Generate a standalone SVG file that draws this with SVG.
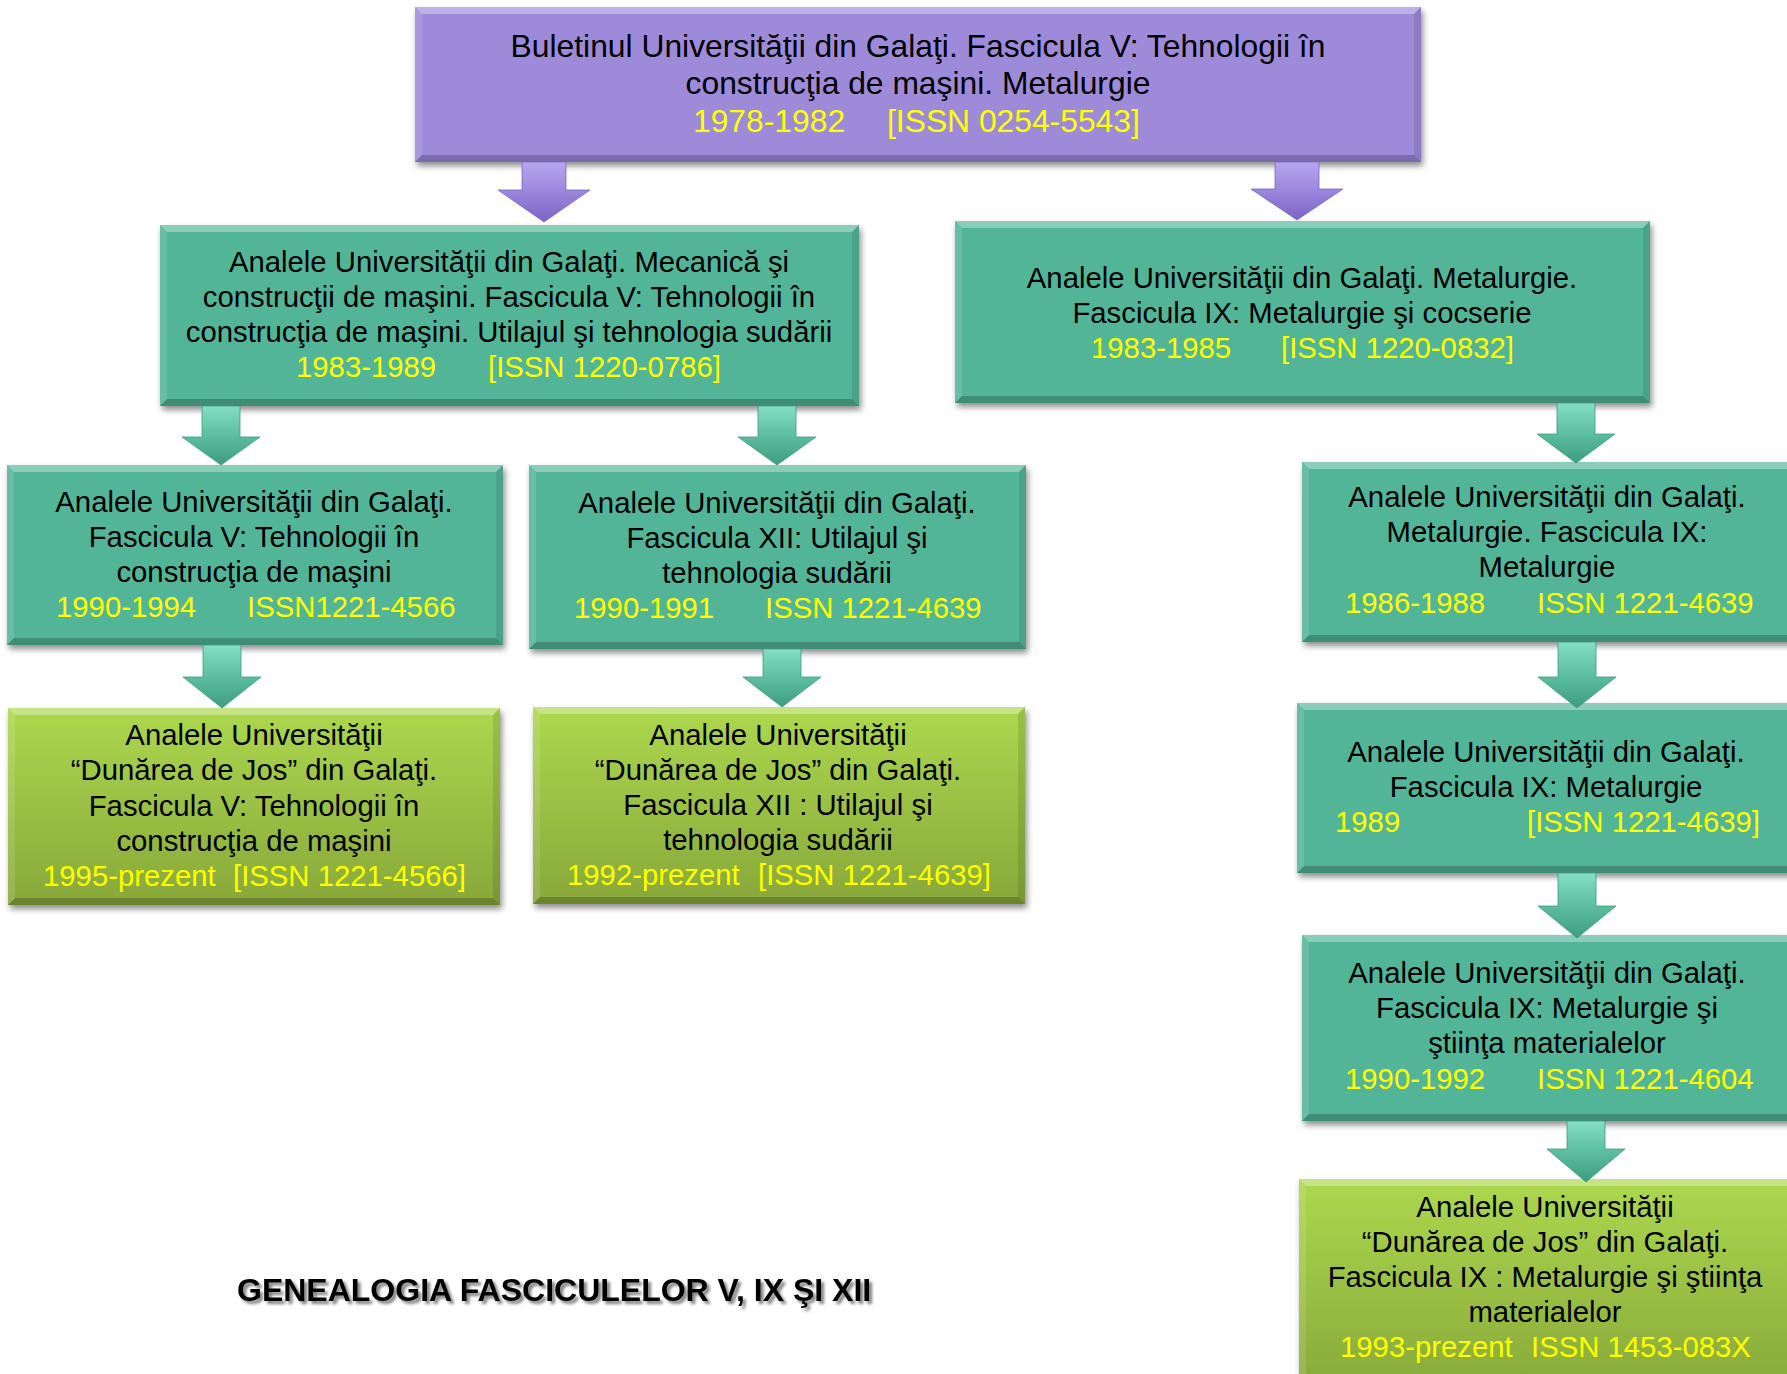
<svg xmlns="http://www.w3.org/2000/svg" width="1787" height="1374" viewBox="0 0 1787 1374">
<style>
.t{font-family:"Liberation Sans",Arial,sans-serif;font-size:29.3px;fill:#000;text-anchor:middle}
.big{font-size:31.8px}
.y{fill:#ffff00;text-anchor:start}
.teal{fill:#52b598}
.purple{fill:#9d8bda}
.lime{fill:url(#gLime)}
.bt{fill:#fff;fill-opacity:0.32}
.bl{fill:#fff;fill-opacity:0.12}
.br{fill:#000;fill-opacity:0.10}
.bb{fill:#000;fill-opacity:0.22}
.ga{fill:url(#gTealArrow);stroke:#3e9a7e;stroke-width:0.8}
.pa{fill:url(#gPurpArrow);stroke:#7a66c4;stroke-width:0.8}
.title{font-family:"Liberation Sans",Arial,sans-serif;font-size:32px;font-weight:bold;fill:#000}
</style>
<defs>
<linearGradient id="gLime" x1="0" y1="0" x2="0" y2="1">
<stop offset="0" stop-color="#acd84e"/>
<stop offset="1" stop-color="#88a83a"/>
</linearGradient>
<linearGradient id="gTealArrow" x1="0" y1="0" x2="0" y2="1">
<stop offset="0" stop-color="#84dfc3"/>
<stop offset="0.5" stop-color="#5cbf9f"/>
<stop offset="1" stop-color="#3e9c80"/>
</linearGradient>
<linearGradient id="gPurpArrow" x1="0" y1="0" x2="0" y2="1">
<stop offset="0" stop-color="#b6a6f0"/>
<stop offset="0.5" stop-color="#9a86dc"/>
<stop offset="1" stop-color="#7a64c6"/>
</linearGradient>
<filter id="sh" x="-5%" y="-10%" width="115%" height="130%">
<feGaussianBlur in="SourceAlpha" stdDeviation="3"/>
<feOffset dx="2" dy="4" result="o"/>
<feComponentTransfer><feFuncA type="linear" slope="0.45"/></feComponentTransfer>
<feMerge><feMergeNode/><feMergeNode in="SourceGraphic"/></feMerge>
</filter>
<filter id="tsh" x="-5%" y="-30%" width="110%" height="160%">
<feGaussianBlur in="SourceAlpha" stdDeviation="1.5"/>
<feOffset dx="3" dy="3"/>
<feComponentTransfer><feFuncA type="linear" slope="0.5"/></feComponentTransfer>
<feMerge><feMergeNode/><feMergeNode in="SourceGraphic"/></feMerge>
</filter>
</defs>
<rect width="1787" height="1374" fill="#fff"/>

<g id="node-top">
<rect class="purple" x="415" y="7" width="1006" height="155" filter="url(#sh)"/>
<polygon class="bt" points="415,7 1421,7 1414,14 422,14"/>
<polygon class="bb" points="415,162 1421,162 1414,155 422,155"/>
<polygon class="bl" points="415,7 422,14 422,155 415,162"/>
<polygon class="br" points="1421,7 1414,14 1414,155 1421,162"/>
<text class="t big" x="918" y="57">Buletinul Universităţii din Galaţi. Fascicula V: Tehnologii în</text>
<text class="t big" x="918" y="94">construcţia de maşini. Metalurgie</text>
<text class="t big y" y="132"><tspan x="693">1978-1982</tspan><tspan x="887">[ISSN 0254-5543]</tspan></text>
</g>

<g id="node-A">
<rect class="teal" x="160" y="225" width="699" height="181" filter="url(#sh)"/>
<polygon class="bt" points="160,225 859,225 852,232 167,232"/>
<polygon class="bb" points="160,406 859,406 852,399 167,399"/>
<polygon class="bl" points="160,225 167,232 167,399 160,406"/>
<polygon class="br" points="859,225 852,232 852,399 859,406"/>
<text class="t" x="509" y="272">Analele Universităţii din Galaţi. Mecanică şi</text>
<text class="t" x="509" y="307">construcţii de maşini. Fascicula V: Tehnologii în</text>
<text class="t" x="509" y="342">construcţia de maşini. Utilajul şi tehnologia sudării</text>
<text class="t y" y="377"><tspan x="296">1983-1989</tspan><tspan x="488">[ISSN 1220-0786]</tspan></text>
</g>

<g id="node-B">
<rect class="teal" x="955" y="221" width="695" height="182" filter="url(#sh)"/>
<polygon class="bt" points="955,221 1650,221 1643,228 962,228"/>
<polygon class="bb" points="955,403 1650,403 1643,396 962,396"/>
<polygon class="bl" points="955,221 962,228 962,396 955,403"/>
<polygon class="br" points="1650,221 1643,228 1643,396 1650,403"/>
<text class="t" x="1302" y="288">Analele Universităţii din Galaţi. Metalurgie.</text>
<text class="t" x="1302" y="323">Fascicula IX: Metalurgie şi cocserie</text>
<text class="t y" y="358"><tspan x="1091">1983-1985</tspan><tspan x="1281">[ISSN 1220-0832]</tspan></text>
</g>

<g id="node-C">
<rect class="teal" x="7" y="465" width="496" height="180" filter="url(#sh)"/>
<polygon class="bt" points="7,465 503,465 496,472 14,472"/>
<polygon class="bb" points="7,645 503,645 496,638 14,638"/>
<polygon class="bl" points="7,465 14,472 14,638 7,645"/>
<polygon class="br" points="503,465 496,472 496,638 503,645"/>
<text class="t" x="254" y="512">Analele Universităţii din Galaţi.</text>
<text class="t" x="254" y="547">Fascicula V: Tehnologii în</text>
<text class="t" x="254" y="582">construcţia de maşini</text>
<text class="t y" y="617"><tspan x="56">1990-1994</tspan><tspan x="247">ISSN1221-4566</tspan></text>
</g>

<g id="node-D">
<rect class="teal" x="529" y="465" width="497" height="184" filter="url(#sh)"/>
<polygon class="bt" points="529,465 1026,465 1019,472 536,472"/>
<polygon class="bb" points="529,649 1026,649 1019,642 536,642"/>
<polygon class="bl" points="529,465 536,472 536,642 529,649"/>
<polygon class="br" points="1026,465 1019,472 1019,642 1026,649"/>
<text class="t" x="777" y="513">Analele Universităţii din Galaţi.</text>
<text class="t" x="777" y="548">Fascicula XII: Utilajul şi</text>
<text class="t" x="777" y="583">tehnologia sudării</text>
<text class="t y" y="618"><tspan x="574">1990-1991</tspan><tspan x="765">ISSN 1221-4639</tspan></text>
</g>

<g id="node-E">
<rect class="teal" x="1302" y="462" width="500" height="180" filter="url(#sh)"/>
<polygon class="bt" points="1302,462 1802,462 1795,469 1309,469"/>
<polygon class="bb" points="1302,642 1802,642 1795,635 1309,635"/>
<polygon class="bl" points="1302,462 1309,469 1309,635 1302,642"/>
<text class="t" x="1547" y="507">Analele Universităţii din Galaţi.</text>
<text class="t" x="1547" y="542">Metalurgie. Fascicula IX:</text>
<text class="t" x="1547" y="577">Metalurgie</text>
<text class="t y" y="613"><tspan x="1345">1986-1988</tspan><tspan x="1537">ISSN 1221-4639</tspan></text>
</g>

<g id="node-F">
<rect class="lime" x="8" y="708" width="492" height="197" filter="url(#sh)"/>
<polygon class="bt" points="8,708 500,708 493,715 15,715"/>
<polygon class="bb" points="8,905 500,905 493,898 15,898"/>
<polygon class="bl" points="8,708 15,715 15,898 8,905"/>
<polygon class="br" points="500,708 493,715 493,898 500,905"/>
<text class="t" x="254" y="745">Analele Universităţii</text>
<text class="t" x="254" y="780">“Dunărea de Jos” din Galaţi.</text>
<text class="t" x="254" y="816">Fascicula V: Tehnologii în</text>
<text class="t" x="254" y="851">construcţia de maşini</text>
<text class="t y" y="886"><tspan x="43">1995-prezent</tspan><tspan x="233">[ISSN 1221-4566]</tspan></text>
</g>

<g id="node-G">
<rect class="lime" x="533" y="707" width="492" height="197" filter="url(#sh)"/>
<polygon class="bt" points="533,707 1025,707 1018,714 540,714"/>
<polygon class="bb" points="533,904 1025,904 1018,897 540,897"/>
<polygon class="bl" points="533,707 540,714 540,897 533,904"/>
<polygon class="br" points="1025,707 1018,714 1018,897 1025,904"/>
<text class="t" x="778" y="745">Analele Universităţii</text>
<text class="t" x="778" y="780">“Dunărea de Jos” din Galaţi.</text>
<text class="t" x="778" y="815">Fascicula XII : Utilajul şi</text>
<text class="t" x="778" y="850">tehnologia sudării</text>
<text class="t y" y="885"><tspan x="567">1992-prezent</tspan><tspan x="758">[ISSN 1221-4639]</tspan></text>
</g>

<g id="node-H">
<rect class="teal" x="1297" y="703" width="505" height="170" filter="url(#sh)"/>
<polygon class="bt" points="1297,703 1802,703 1795,710 1304,710"/>
<polygon class="bb" points="1297,873 1802,873 1795,866 1304,866"/>
<polygon class="bl" points="1297,703 1304,710 1304,866 1297,873"/>
<text class="t" x="1546" y="762">Analele Universităţii din Galaţi.</text>
<text class="t" x="1546" y="797">Fascicula IX: Metalurgie</text>
<text class="t y" y="832"><tspan x="1335">1989</tspan><tspan x="1527">[ISSN 1221-4639]</tspan></text>
</g>

<g id="node-I">
<rect class="teal" x="1302" y="935" width="500" height="186" filter="url(#sh)"/>
<polygon class="bt" points="1302,935 1802,935 1795,942 1309,942"/>
<polygon class="bb" points="1302,1121 1802,1121 1795,1114 1309,1114"/>
<polygon class="bl" points="1302,935 1309,942 1309,1114 1302,1121"/>
<text class="t" x="1547" y="983">Analele Universităţii din Galaţi.</text>
<text class="t" x="1547" y="1018">Fascicula IX: Metalurgie şi</text>
<text class="t" x="1547" y="1053">ştiinţa materialelor</text>
<text class="t y" y="1089"><tspan x="1345">1990-1992</tspan><tspan x="1537">ISSN 1221-4604</tspan></text>
</g>

<g id="node-J">
<rect class="lime" x="1299" y="1179" width="503" height="215" filter="url(#sh)"/>
<polygon class="bt" points="1299,1179 1802,1179 1795,1186 1306,1186"/>
<polygon class="bl" points="1299,1179 1306,1186 1306,1387 1299,1394"/>
<text class="t" x="1545" y="1217">Analele Universităţii</text>
<text class="t" x="1545" y="1252">“Dunărea de Jos” din Galaţi.</text>
<text class="t" x="1545" y="1287">Fascicula IX : Metalurgie şi ştiinţa</text>
<text class="t" x="1545" y="1322">materialelor</text>
<text class="t y" y="1357"><tspan x="1340">1993-prezent</tspan><tspan x="1531">ISSN 1453-083X</tspan></text>
</g>

<g id="connectors">
<path class="pa" d="M522,162 H566 V190 H590 L544,222 L498,190 H522 Z"/>
<path class="pa" d="M1275,162 H1319 V189 H1343 L1297,220 L1251,189 H1275 Z"/>
<path class="ga" d="M202,406 H240 V437 H260 L221,465 L182,437 H202 Z"/>
<path class="ga" d="M758,406 H796 V437 H816 L777,465 L738,437 H758 Z"/>
<path class="ga" d="M1557,403 H1595 V434 H1615 L1576,463 L1537,434 H1557 Z"/>
<path class="ga" d="M203,645 H241 V677 H261 L222,708 L183,677 H203 Z"/>
<path class="ga" d="M763,649 H801 V677 H821 L782,707 L743,677 H763 Z"/>
<path class="ga" d="M1558,642 H1596 V677 H1616 L1577,708 L1538,677 H1558 Z"/>
<path class="ga" d="M1558,873 H1596 V906 H1616 L1577,938 L1538,906 H1558 Z"/>
<path class="ga" d="M1567,1121 H1605 V1149 H1625 L1586,1182 L1547,1149 H1567 Z"/>
</g>

<text class="title" x="237" y="1301" filter="url(#tsh)">GENEALOGIA FASCICULELOR V, IX ŞI XII</text>
</svg>
